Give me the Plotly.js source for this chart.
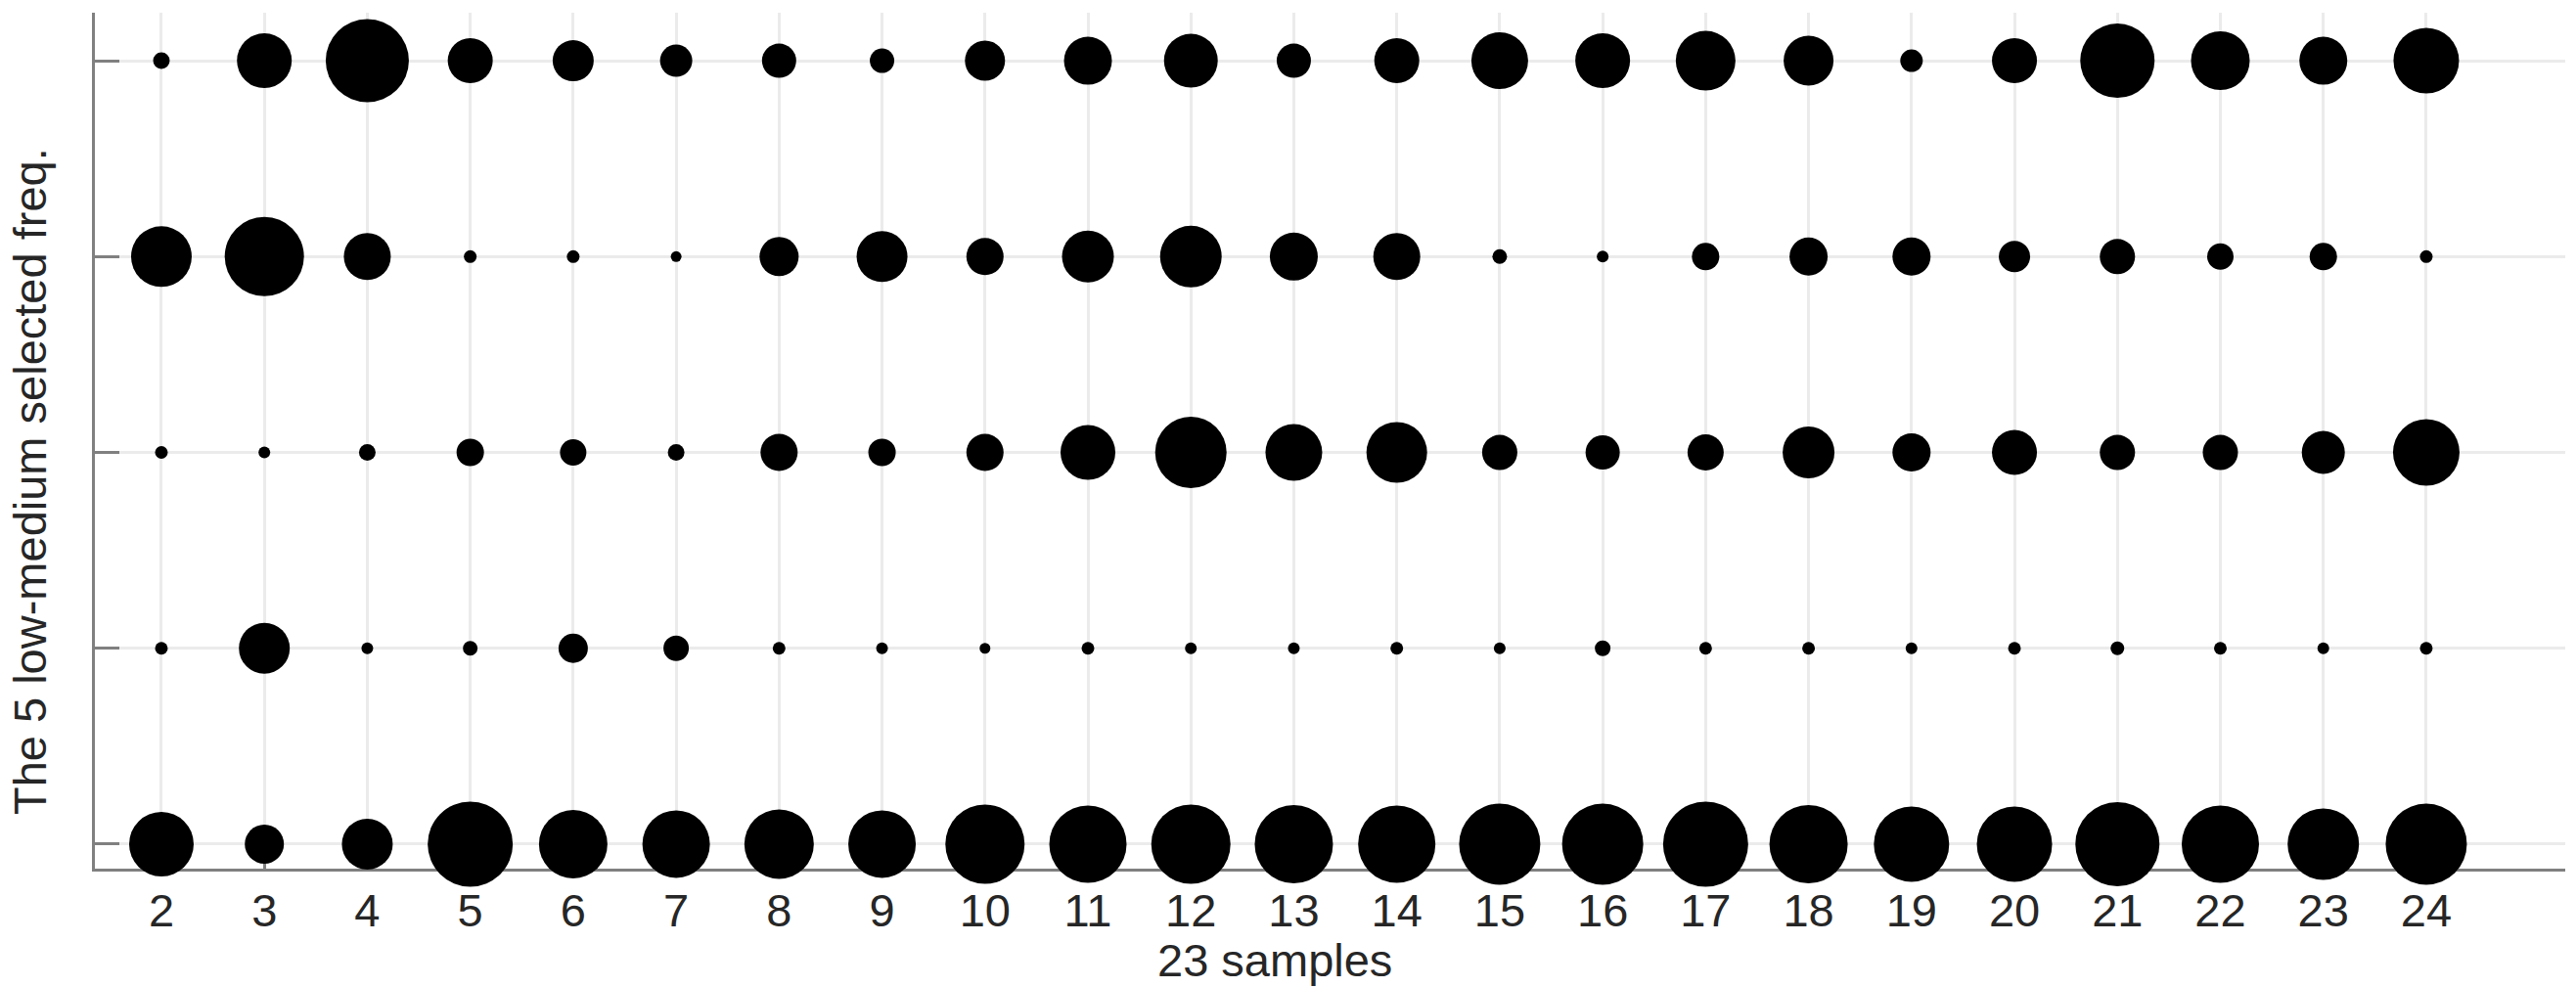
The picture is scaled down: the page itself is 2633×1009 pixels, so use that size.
<!DOCTYPE html>
<html>
<head>
<meta charset="utf-8">
<script src="https://cdn.plot.ly/plotly-3.0.1.min.js"></script>
<style>html,body{margin:0;padding:0;background:#fff;}#chart{width:2633px;height:1009px;}</style>
</head>
<body>
<div id="chart"></div>
<script>
// 23 samples on the x axis
const samples = [2,3,4,5,6,7,8,9,10,11,12,13,14,15,16,17,18,19,20,21,22,23,24];
const sampleLabels = samples.map(String);
// the 5 selected frequencies (rows, bottom to top)
const freqRows = [1,2,3,4,5];
// bubble values per frequency row
const freq1 = [66,40,52,87,70,69,71,69,81,79,81,80,79,83,83,87,80,77,77,86,79,73,83]; // bottom row
const freq2 = [13,52,12,15,30,26,13,12,11,13,12,12,13,12,16,13,13,12,13,14,13,12,13];
const freq3 = [13,12,17,28,27,17,38,28,38,56,73,58,62,36,35,37,53,39,46,36,36,44,68];
const freq4 = [62,81,48,13,13,11,40,52,38,53,63,49,48,15,12,28,39,39,32,36,27,28,13];
const freq5 = [17,56,85,46,42,33,35,25,41,49,55,35,46,58,56,61,51,23,46,76,60,49,67]; // top row
const rowValues = [freq1, freq2, freq3, freq4, freq5];
const xTitle = '23 samples';
const yTitle = 'The 5 low-medium selected freq.';

const FONT = '"Liberation Sans", Arial, Helvetica, sans-serif';
const traces = rowValues.map((vals, i) => ({
  type: 'scatter',
  mode: 'markers',
  x: samples,
  y: samples.map(() => freqRows[i]),
  cliponaxis: false,
  showlegend: false,
  hoverinfo: 'skip',
  marker: { size: vals, sizemode: 'diameter', sizeref: 1, color: '#000000', opacity: 1, line: { width: 0 } }
}));

const axisCommon = {
  ticks: 'inside', ticklen: 25, tickwidth: 3, tickcolor: '#808080',
  showline: true, linecolor: '#808080', linewidth: 3,
  showgrid: true, gridcolor: '#ebebeb', gridwidth: 3,
  zeroline: false, layer: 'below traces', fixedrange: true
};

const layout = {
  width: 2633, height: 1009,
  margin: { l: 97, r: 11, t: 13, b: 121, pad: 0 },
  paper_bgcolor: '#ffffff', plot_bgcolor: '#ffffff',
  font: { family: FONT, color: '#262626' },
  xaxis: Object.assign({}, axisCommon, {
    range: [1.354, 25.35], tickmode: 'array', tickvals: samples, ticktext: sampleLabels,
    tickfont: { family: FONT, size: 47, color: '#262626' }
  }),
  yaxis: Object.assign({}, axisCommon, {
    range: [0.875, 5.245], tickmode: 'array', tickvals: freqRows, showticklabels: false
  }),
  annotations: [
    { text: xTitle, xref: 'paper', yref: 'paper', x: 0.4776, y: -0.1063, xanchor: 'center', yanchor: 'middle',
      showarrow: false, font: { family: FONT, size: 47, color: '#262626' } },
    { text: yTitle, xref: 'paper', yref: 'paper', x: -0.0261, y: 0.4526, xanchor: 'center', yanchor: 'middle',
      textangle: -90, showarrow: false, font: { family: FONT, size: 47, color: '#262626' } }
  ]
};

Plotly.newPlot('chart', traces, layout, { staticPlot: true, displayModeBar: false });
</script>
</body>
</html>
